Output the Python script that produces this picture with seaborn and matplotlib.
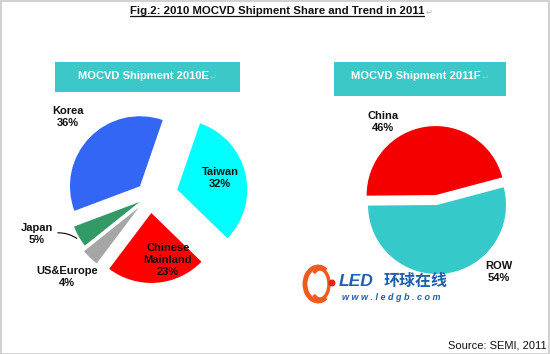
import matplotlib
matplotlib.use("Agg")
import matplotlib.pyplot as plt
import seaborn as sns
from matplotlib.patches import Rectangle, Arc, Circle

# --- data ---
labels_2010 = ["Taiwan", "Chinese\nMainland", "US&Europe", "Japan", "Korea"]
share_2010 = [32, 23, 4, 5, 36]
colors_2010 = ["#00FFFF", "#FF0000", "#A6A6A6", "#339966", "#3366F5"]

labels_2011 = ["China", "ROW"]
share_2011 = [46, 54]
colors_2011 = ["#F50000", "#36C9C9"]

W, H = 550, 354
BOX = "#3CC8C8"


def Y(y):
    return H - y


sns.set_theme(style="white")
plt.rcParams["font.family"] = ["Liberation Sans", "DejaVu Sans"]

fig = plt.figure(figsize=(5.5, 3.54), dpi=100, facecolor="white")
ax = fig.add_axes([0, 0, 1, 1])

# pies (pixel units)
ax.pie(share_2010, colors=colors_2010, startangle=71, counterclock=False,
       center=(150, Y(196)), radius=70, explode=[28, 17, 16, 12, 14],
       wedgeprops={"linewidth": 0})
ax.pie(share_2011, colors=colors_2011, startangle=180.5, counterclock=False,
       center=(437, Y(205)), radius=69, explode=[10, 0],
       wedgeprops={"linewidth": 0})

ax.set_xlim(0, W)
ax.set_ylim(0, H)
ax.set_aspect("equal")
ax.axis("off")

# title boxes
for x0, x1, y0, y1, txt in [(55, 240, 62, 92, "MOCVD Shipment 2010E"),
                            (334, 506, 62, 96, "MOCVD Shipment 2011F")]:
    ax.add_patch(Rectangle((x0, Y(y1)), x1 - x0, y1 - y0, color=BOX, lw=0))
    t = ax.text((x0 + x1) / 2 - 4, Y(76), txt, color="white", fontsize=8,
                fontweight="bold", ha="center", va="center")
    fig.canvas.draw()
    xe = ax.transData.inverted().transform(t.get_window_extent())[1][0]
    ax.text(xe + 1, Y(77), "\u21b5", color="#E8A0B8", fontsize=6,
            family="DejaVu Sans", ha="left", va="center")

# pie labels
lab = dict(fontsize=8, fontweight="bold", ha="center", va="center",
           color="#111111", linespacing=1.25)
ax.text(68, Y(117), "Korea\n36%", **lab)
ax.text(220, Y(178), "Taiwan\n32%", **lab)
ax.text(168, Y(260), "Chinese\nMainland\n23%", **lab)
ax.text(37, Y(234), "Japan\n5%", **lab)
ax.text(67, Y(277), "US&Europe\n4%", **lab)
ax.text(383, Y(122), "China\n46%", **lab)
ax.text(499, Y(272), "ROW\n54%", **lab)
ax.annotate("", xy=(79, Y(240)), xytext=(55, Y(233)),
            arrowprops=dict(arrowstyle="-", color="black", lw=0.8,
                            connectionstyle="arc3,rad=-0.2"))

# watermark logo
ax.add_patch(Arc((318, Y(284)), 26, 34, theta1=60, theta2=300,
                 color="#F05A1E", lw=3.5))
ax.add_patch(Arc((320, Y(284)), 18, 30, theta1=-120, theta2=120,
                 color="#F05A1E", lw=2.5))
ax.add_patch(Circle((332, Y(283)), 3.5, color="#E8201A", lw=0))
ax.text(339, Y(281), "LED", color="#1F5FAF", fontsize=12.5,
        fontweight="bold", style="italic", va="center", ha="left")
ax.text(384, Y(281), "环球在线", color="#1F5FAF", fontsize=11.5,
        fontweight="bold", va="center", ha="left", family="Noto Sans CJK SC")
ax.text(342, Y(298), "w w w . l e d g b . c o m", color="#1F5FAF",
        fontsize=6.5, fontweight="bold", style="italic", va="center", ha="left")

# source
ax.text(547, Y(345), "Source: SEMI, 2011", fontsize=8, ha="right",
        va="center", color="#111111")

# main title with underline
t = ax.text(277, Y(11), "Fig.2: 2010 MOCVD Shipment Share and Trend in 2011",
            fontsize=8.2, fontweight="bold", ha="center", va="center",
            color="#111111")
fig.canvas.draw()
inv = ax.transData.inverted()
(xa, ya), (xb, yb) = inv.transform(t.get_window_extent())
ax.plot([xa, xb], [ya + 0.5, ya + 0.5], color="#111111", lw=0.9)
ax.text(xb + 1, Y(12), "\u21b5", color="#B8B8B8", fontsize=6,
        family="DejaVu Sans", ha="left", va="center")

# light frame
ax.add_patch(Rectangle((0.5, 0.5), W - 2, H - 1.5, fill=False,
                       ec="#C8C8C8", lw=1.2))

fig.savefig("out.png", dpi=100, facecolor="white")
